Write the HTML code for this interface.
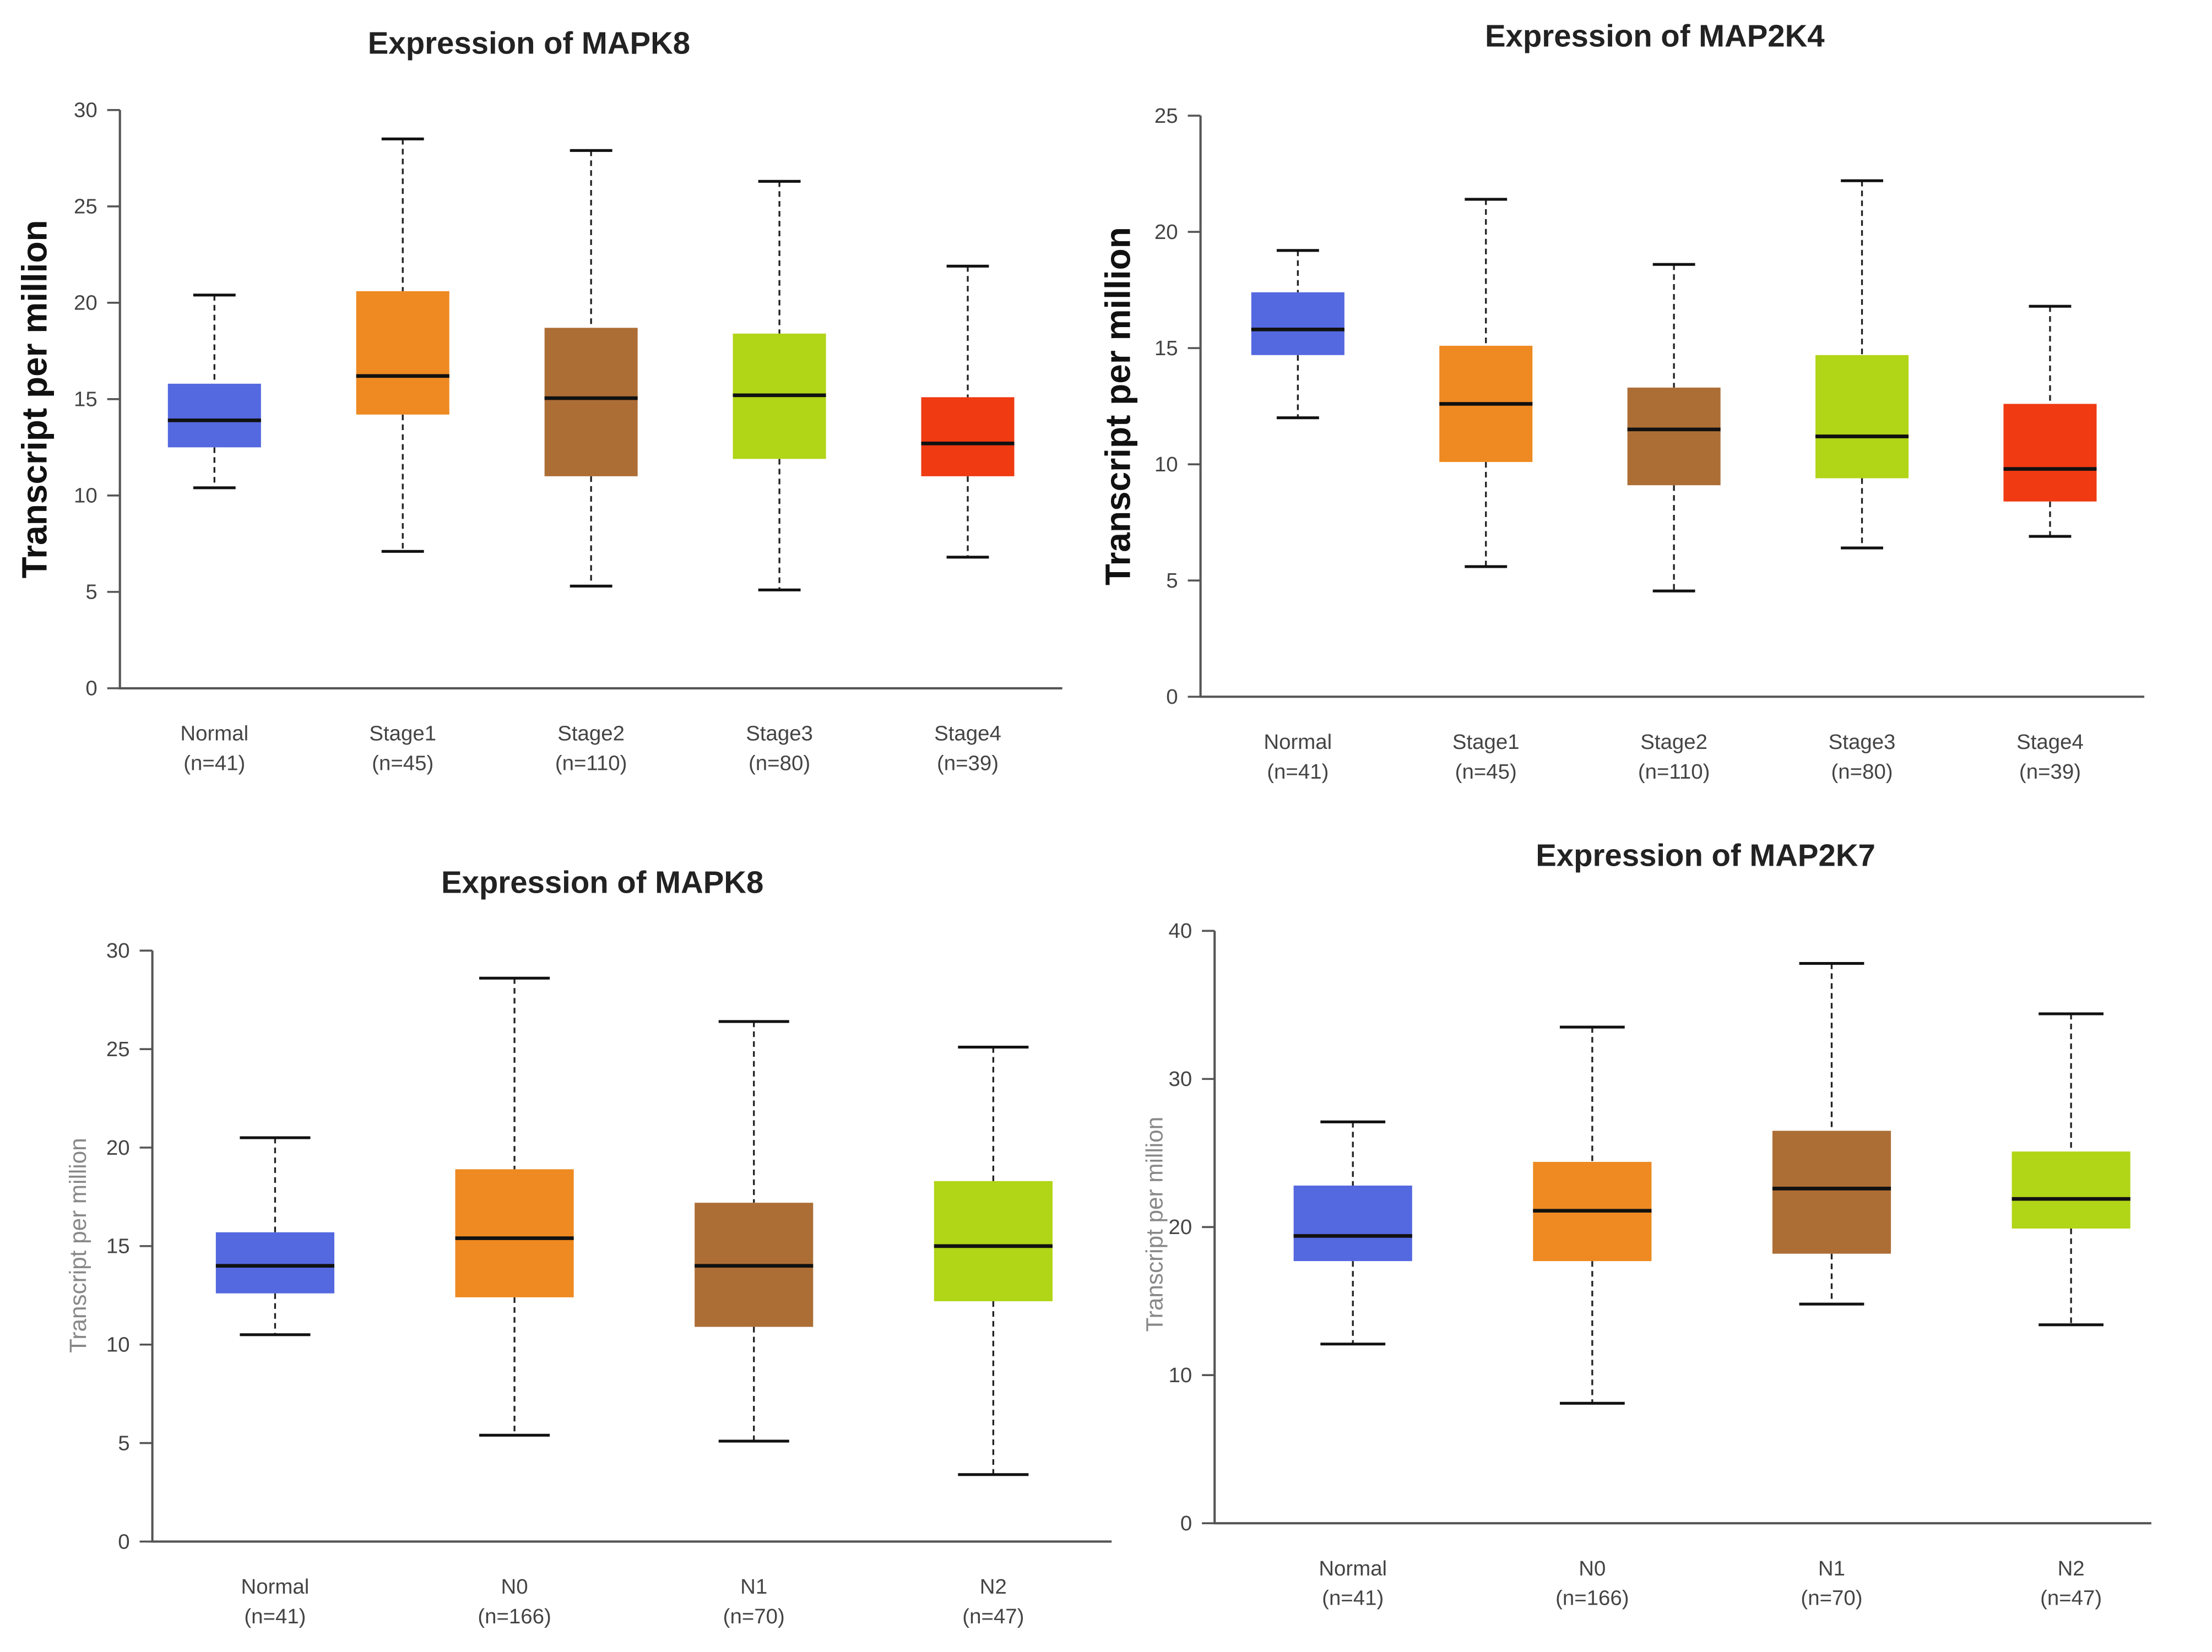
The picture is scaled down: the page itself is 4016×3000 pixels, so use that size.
<!DOCTYPE html>
<html><head><meta charset="utf-8"><style>
html,body{margin:0;padding:0;background:#fff;}
svg{display:block;}
text{font-family:"Liberation Sans",sans-serif;}
</style></head><body>
<svg id="fig" width="4016" height="3000" viewBox="0 0 1568 1171.3" preserveAspectRatio="none" xmlns="http://www.w3.org/2000/svg"></svg>
<script>
// Chart A: MAPK8 by stage
const catsA = ["Normal","Stage1","Stage2","Stage3","Stage4"];
const nA = ["(n=41)","(n=45)","(n=110)","(n=80)","(n=39)"];
const loA = [10.4,7.1,5.3,5.1,6.8];
const q1A = [12.5,14.2,11.0,11.9,11.0];
const medA = [13.9,16.2,15.05,15.2,12.7];
const q3A = [15.8,20.6,18.7,18.4,15.1];
const hiA = [20.4,28.5,27.9,26.3,21.9];
const ticksA = [0,5,10,15,20,25,30];
// Chart B: MAP2K4 by stage
const catsB = ["Normal","Stage1","Stage2","Stage3","Stage4"];
const nB = ["(n=41)","(n=45)","(n=110)","(n=80)","(n=39)"];
const loB = [12.0,5.6,4.55,6.4,6.9];
const q1B = [14.7,10.1,9.1,9.4,8.4];
const medB = [15.8,12.6,11.5,11.2,9.8];
const q3B = [17.4,15.1,13.3,14.7,12.6];
const hiB = [19.2,21.4,18.6,22.2,16.8];
const ticksB = [0,5,10,15,20,25];
// Chart C: MAPK8 by nodal status
const catsC = ["Normal","N0","N1","N2"];
const nC = ["(n=41)","(n=166)","(n=70)","(n=47)"];
const loC = [10.5,5.4,5.1,3.4];
const q1C = [12.6,12.4,10.9,12.2];
const medC = [14.0,15.4,14.0,15.0];
const q3C = [15.7,18.9,17.2,18.3];
const hiC = [20.5,28.6,26.4,25.1];
const ticksC = [0,5,10,15,20,25,30];
// Chart D: MAP2K7 by nodal status
const catsD = ["Normal","N0","N1","N2"];
const nD = ["(n=41)","(n=166)","(n=70)","(n=47)"];
const loD = [12.1,8.1,14.8,13.4];
const q1D = [17.7,17.7,18.2,19.9];
const medD = [19.4,21.1,22.6,21.9];
const q3D = [22.8,24.4,26.5,25.1];
const hiD = [27.1,33.5,37.8,34.4];
const ticksD = [0,10,20,30,40];

const colorsStage = ["#5468e0","#ee8a21","#ad6e36","#b1d517","#ef3a12"];
const NS="http://www.w3.org/2000/svg";
const svg=document.getElementById('fig');
function mk(tag,attrs,parent){const e=document.createElementNS(NS,tag);for(const k in attrs)e.setAttribute(k,attrs[k]);(parent||svg).appendChild(e);return e;}

function chart(o){
  const g=mk('g',{});
  
  
  const y=v=>o.y0-(v-o.ymin)/(o.ymax-o.ymin)*(o.y0-o.ytop);
  const x=i=>o.cx[0]+i*(o.cx[1]-o.cx[0]);
  const t=mk('text',{x:o.tx,y:o.ty,'text-anchor':'middle','font-size':22,'font-weight':'bold',fill:'#222'},g);
  t.textContent=o.title;
  
  
  const yl=mk('text',{transform:`translate(${o.ylx},${o.yly}) rotate(-90)`,'text-anchor':'middle','font-size':o.ylBold?25:16.5,'font-weight':o.ylBold?'bold':'normal',fill:o.ylBold?'#111':'#888'},g);
  yl.textContent='Transcript per million';
  
  
  const ax=mk('path',{d:`M${o.ax} ${o.ytop} V${o.y0} H${o.xend}`,stroke:'#555',fill:'none','stroke-width':1.6},g);
  
  
  o.ticks.forEach(v=>{
    mk('line',{x1:o.ax-9,x2:o.ax,y1:y(v),y2:y(v),stroke:'#555','stroke-width':1.4},g);
    const tl=mk('text',{x:o.ax-16,y:y(v)+5,'text-anchor':'end','font-size':15,fill:'#444'},g);
    tl.textContent=v;
    
    
  });
  o.cats.forEach((c,i)=>{
    const cx=x(i),bw=o.bw;
    const b=mk('g',{},g);
    
    
    mk('line',{x1:cx,x2:cx,y1:y(o.hi[i]),y2:y(o.q3[i]),stroke:'#222','stroke-width':1.3,'stroke-dasharray':'4,3'},b);
    mk('line',{x1:cx,x2:cx,y1:y(o.q1[i]),y2:y(o.lo[i]),stroke:'#222','stroke-width':1.3,'stroke-dasharray':'4,3'},b);
    mk('line',{x1:cx-o.cap,x2:cx+o.cap,y1:y(o.hi[i]),y2:y(o.hi[i]),stroke:'#111','stroke-width':2},b);
    mk('line',{x1:cx-o.cap,x2:cx+o.cap,y1:y(o.lo[i]),y2:y(o.lo[i]),stroke:'#111','stroke-width':2},b);
    mk('rect',{x:cx-bw/2,y:y(o.q3[i]),width:bw,height:y(o.q1[i])-y(o.q3[i]),fill:colorsStage[i]},b);
    mk('line',{x1:cx-bw/2,x2:cx+bw/2,y1:y(o.med[i]),y2:y(o.med[i]),stroke:'#111','stroke-width':2.6},b);
    const l1=mk('text',{x:cx,y:o.y0+37,'text-anchor':'middle','font-size':15,fill:'#444'},g);
    l1.textContent=c;
    
    
    const l2=mk('text',{x:cx,y:o.y0+58,'text-anchor':'middle','font-size':15,fill:'#444'},g);
    l2.textContent=o.n[i];
    
    
  });
}
chart({name:'chart-mapk8-stage',title:'Expression of MAPK8',tx:375,ty:38,ylx:33,yly:283,ylBold:true,ax:85,y0:488,ytop:78,ymin:0,ymax:30,xend:753,cx:[152,285.5],bw:66,cap:15,ticks:ticksA,cats:catsA,n:nA,lo:loA,q1:q1A,med:medA,q3:q3A,hi:hiA});
chart({name:'chart-map2k4-stage',title:'Expression of MAP2K4',tx:1173,ty:33,ylx:801,yly:288,ylBold:true,ax:851,y0:494,ytop:82,ymin:0,ymax:25,xend:1520,cx:[920,1053.3],bw:66,cap:15,ticks:ticksB,cats:catsB,n:nB,lo:loB,q1:q1B,med:medB,q3:q3B,hi:hiB});
chart({name:'chart-mapk8-nodal',title:'Expression of MAPK8',tx:427,ty:633,ylx:61,yly:883,ylBold:false,ax:108,y0:1093,ytop:674,ymin:0,ymax:30,xend:788,cx:[195,364.7],bw:84,cap:25,ticks:ticksC,cats:catsC,n:nC,lo:loC,q1:q1C,med:medC,q3:q3C,hi:hiC});
chart({name:'chart-map2k7-nodal',title:'Expression of MAP2K7',tx:1209,ty:614,ylx:824,yly:868,ylBold:false,ax:861,y0:1080,ytop:660,ymin:0,ymax:40,xend:1525,cx:[959,1128.7],bw:84,cap:23,ticks:ticksD,cats:catsD,n:nD,lo:loD,q1:q1D,med:medD,q3:q3D,hi:hiD});
</script>
</body></html>
